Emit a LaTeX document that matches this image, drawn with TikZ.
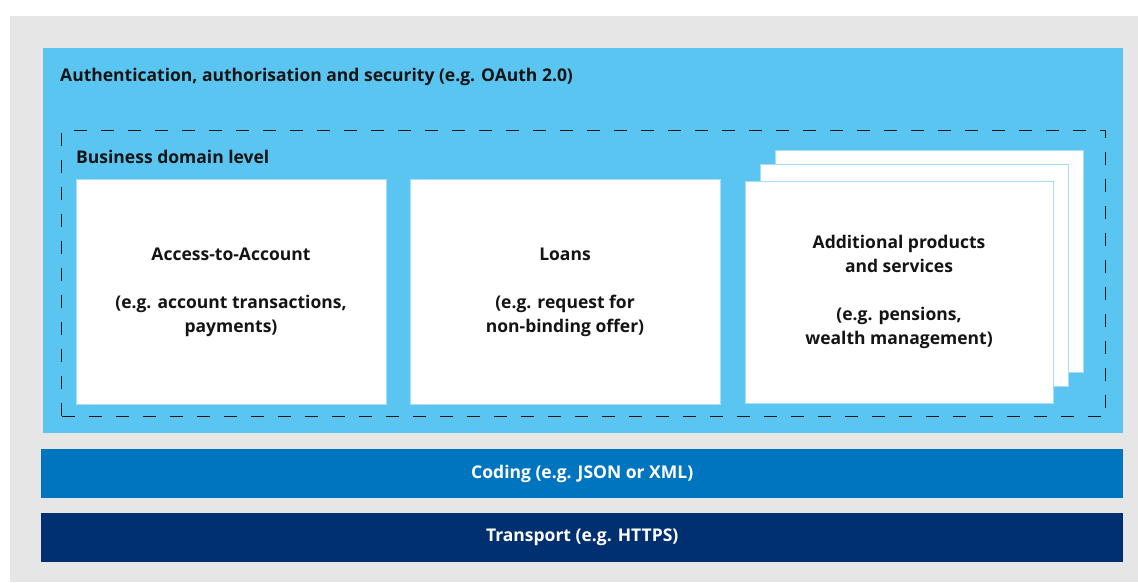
\documentclass[tikz,border=0pt]{standalone}
\usepackage{fontspec}
\setmainfont{Open Sans}
\usepackage{tikz}
\usetikzlibrary{positioning}
\definecolor{pagegrey}{RGB}{230,230,230}
\definecolor{skyblue}{RGB}{91,197,242}
\definecolor{codingblue}{RGB}{0,117,191}
\definecolor{transportnavy}{RGB}{0,48,112}
\definecolor{cardline}{RGB}{165,222,247}
\definecolor{inkblack}{RGB}{20,20,20}

\begin{document}
\begin{tikzpicture}[
  x=1pt, y=-1pt,
  panel/.style={rectangle, fill=skyblue, inner sep=0pt, anchor=north west},
  domainbox/.style={rectangle, draw=inkblack, line width=1.3pt, dash pattern=on 13pt off 14pt, inner sep=0pt, anchor=north west},
  card/.style={rectangle, fill=white, draw=cardline, line width=0.8pt, inner sep=0pt, minimum width=308, minimum height=222, align=center, font=\fontsize{17.5}{24}\selectfont\bfseries, text=inkblack},
  layerbar/.style={rectangle, inner sep=0pt, minimum width=1082, minimum height=49, anchor=north west, font=\fontsize{17.5}{24}\selectfont\bfseries, text=white},
  caption/.style={anchor=base west, inner sep=0pt, font=\fontsize{17.5}{24}\selectfont\bfseries, text=inkblack}
]
\useasboundingbox (0,0) rectangle (1138,582);

% Grey page
\node[rectangle, fill=pagegrey, inner sep=0pt, minimum width=1128, minimum height=566, anchor=north west] (page) at (10,16) {};

% Security layer
\node[panel, minimum width=1080, minimum height=385] (auth) at (43,48) {};
\node[caption] (authlabel) at (60,81) {Authentication, authorisation and security (e.g. OAuth 2.0)};

% Business domain level
\node[domainbox, minimum width=1044, minimum height=286] (domain) at (61,130) {};
\node[caption] (domainlabel) at (76,163) {Business domain level};

\node[card, minimum width=310, minimum height=225] (a2a) at (231,292)
  {Access-to-Account\\[24pt](e.g. account transactions,\\payments)};
\node[card, minimum width=310, minimum height=225] (loans) at (565,292)
  {Loans\\[24pt](e.g. request for\\non-binding offer)};

% Stacked cards
\foreach \k/\dx/\dy in {2/30/-29, 1/15/-15} {
  \node[card] (extra\k) at (899+\dx,290+\dy) {};
}
\node[card] (extra) at (899,292)
  {Additional products\\and services\\[24pt](e.g. pensions,\\wealth management)};

% Coding and transport
\node[layerbar, fill=codingblue] (coding) at (41,449) {Coding (e.g. JSON or XML)};
\node[layerbar, fill=transportnavy] (transport) at (41,513) {Transport (e.g. HTTPS)};

\end{tikzpicture}
\end{document}
